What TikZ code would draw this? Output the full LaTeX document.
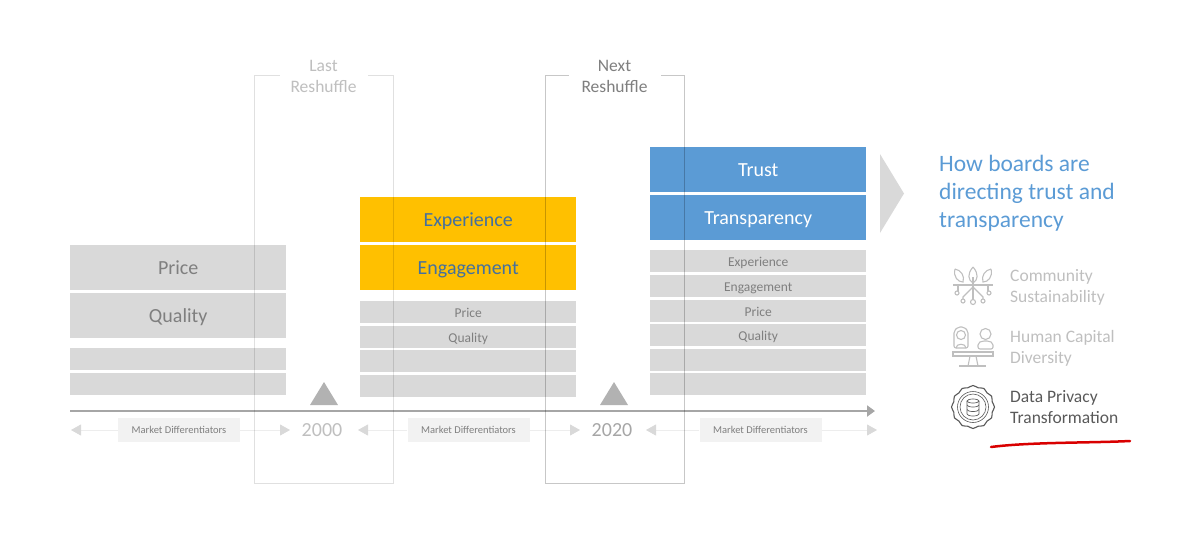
\documentclass[tikz,border=0pt]{standalone}
\usepackage{fontspec}
\setmainfont{Carlito}
\usetikzlibrary{arrows.meta,calc,positioning}

\definecolor{boxgrey}{HTML}{D9D9D9}
\definecolor{textgrey}{HTML}{7F7F7F}
\definecolor{palegrey}{HTML}{BFBFBF}
\definecolor{boardblue}{HTML}{5B9BD5}
\definecolor{boardgold}{HTML}{FFC000}
\definecolor{goldtext}{HTML}{44709E}
\definecolor{darktext}{HTML}{595959}

\tikzset{
  bigbox/.style={fill=boxgrey,text=textgrey,anchor=north west,minimum width=216pt,minimum height=45pt,inner sep=0pt,text height=15pt,text depth=2pt,font=\fontsize{20}{22}\selectfont},
  smallbox/.style={fill=boxgrey,text=textgrey,anchor=north west,minimum width=216pt,minimum height=22pt,inner sep=0pt,text height=11pt,text depth=1pt,font=\fontsize{13.5}{15}\selectfont},
  goldbox/.style={bigbox,fill=boardgold,text=goldtext},
  bluebox/.style={bigbox,fill=boardblue,text=white},
  marketbox/.style={fill=black!5,text=textgrey,minimum width=122pt,minimum height=24pt,inner sep=0pt,font=\fontsize{10.5}{12}\selectfont},
  marketline/.style={draw=black!7,line width=0.8pt,-{Triangle[length=10pt,width=11pt,color=boxgrey]}},
  yearlabel/.style={text=palegrey,inner sep=0pt,font=\fontsize{20}{22}\selectfont},
  reshuffle/.style={draw=black,line width=0.8pt,minimum width=139pt,minimum height=408pt,inner sep=0pt},
  reshufflelabel/.style={fill=white,align=center,minimum width=72pt,inner sep=1pt,font=\fontsize{17.5}{21}\selectfont},
  theme/.style={anchor=west,align=left,inner sep=0pt,text=palegrey,font=\fontsize{17.5}{21}\selectfont},
  icon/.style={draw=palegrey,line width=1.1pt}
}

\begin{document}
\begin{tikzpicture}[x=1pt,y=-1pt]

  \useasboundingbox (0,0) rectangle (1200,547);

  % first column
  \node[bigbox] (price1) at (70,245) {Price};
  \node[bigbox] (quality1) at (70,293) {Quality};
  \node[smallbox] (blank1a) at (70,348) {};
  \node[smallbox] (blank1b) at (70,373) {};

  % second column
  \node[goldbox] (experience2) at (360,197) {Experience};
  \node[goldbox] (engagement2) at (360,245) {Engagement};
  \node[smallbox] (price2) at (360,301) {Price};
  \node[smallbox] (quality2) at (360,326) {Quality};
  \node[smallbox] (blank2a) at (360,350) {};
  \node[smallbox] (blank2b) at (360,375) {};

  % third column
  \node[bluebox] (trust3) at (650,147) {Trust};
  \node[bluebox] (transparency3) at (650,195) {Transparency};
  \node[smallbox] (experience3) at (650,250) {Experience};
  \node[smallbox] (engagement3) at (650,275) {Engagement};
  \node[smallbox] (price3) at (650,300) {Price};
  \node[smallbox] (quality3) at (650,324) {Quality};
  \node[smallbox] (blank3a) at (650,349) {};
  \node[smallbox] (blank3b) at (650,373) {};

  % timeline
  \coordinate (axisstart) at (70,411);
  \coordinate (axisend) at (875,411);
  \draw[draw=black!35,line width=2pt,-{Triangle[length=8pt,width=11pt]}] (axisstart) -- (axisend);

  \fill[black!30] (324,382) -- (338,405) -- (310,405) -- cycle;
  \fill[black!30] (614,382) -- (628,405) -- (600,405) -- cycle;

  \node[yearlabel] (year2000) at (322,430) {2000};
  \node[yearlabel,text=black!35] (year2020) at (612,430) {2020};

  \node[marketbox] (market1) at (179,430) {Market Differentiators};
  \node[marketbox] (market2) at (468.5,430) {Market Differentiators};
  \node[marketbox] (market3) at (760.5,430) {Market Differentiators};

  \coordinate (tip1l) at (71,430);
  \coordinate (tip1r) at (290,430);
  \coordinate (tip2l) at (358,430);
  \coordinate (tip2r) at (580,430);
  \coordinate (tip3l) at (646,430);
  \coordinate (tip3r) at (877,430);
  \draw[marketline] (market1.west) -- (tip1l);
  \draw[marketline] (market1.east) -- (tip1r);
  \draw[marketline] (market2.west) -- (tip2l);
  \draw[marketline] (market2.east) -- (tip2r);
  \draw[marketline] (market3.west) -- (tip3l);
  \draw[marketline] (market3.east) -- (tip3r);

  % reshuffle frames
  \node[reshuffle,draw opacity=0.12] (lastframe) at (323.5,279) {};
  \node[reshuffle,draw opacity=0.22] (nextframe) at (614.5,279) {};
  \node[reshufflelabel,text=palegrey,minimum width=88pt] (lastlabel) at ([yshift=-2pt]lastframe.north) {Last\\Reshuffle};
  \node[reshufflelabel,text=textgrey,minimum width=92pt] (nextlabel) at ([yshift=-2pt]nextframe.north) {Next\\Reshuffle};

  % right hand panel
  \fill[boxgrey] (880,154) -- (904,193.5) -- (880,233) -- cycle;
  \node[anchor=north west,align=left,inner sep=0pt,text=boardblue,font=\fontsize{23.5}{28}\selectfont] (headline) at (939,155) {How boards are\\directing trust and\\transparency};

  \node[theme] (community) at (1010,287) {Community\\Sustainability};
  \node[theme] (human) at (1010,348) {Human Capital\\Diversity};
  \node[theme,text=darktext] (privacy) at (1010,407) {Data Privacy\\Transformation};

  % community icon
  \begin{scope}[icon]
    \draw (953,285) -- (993,285);
    \draw (973,267) .. controls (967,274) and (968,280) .. (973,283) .. controls (978,280) and (979,274) .. (973,267);
    \draw (955,269) .. controls (953,277) and (958,282) .. (963,282) .. controls (965,276) and (961,270) .. (955,269);
    \draw (991,269) .. controls (993,277) and (988,282) .. (983,282) .. controls (981,276) and (985,270) .. (991,269);
    \draw (973,277) -- (973,299);
    \draw (973,287) -- (963,297) -- (963,299);
    \draw (973,287) -- (983,297) -- (983,299);
    \draw (958,285) -- (958,291);
    \draw (988,285) -- (988,291);
    \draw (973,302) circle (2.5);
    \draw (963,301) circle (2);
    \draw (983,301) circle (2);
    \draw (957,293) circle (2);
    \draw (989,293) circle (2);
  \end{scope}

  % diversity icon
  \begin{scope}[icon]
    \draw[rounded corners=2pt] (954,348) -- (954,331) -- (958,327) -- (964,327) -- (968,331) -- (968,348) -- cycle;
    \draw (961,335) circle (4.5);
    \draw (956,348) .. controls (956,343) and (966,343) .. (966,348);
    \draw (985.5,334) circle (5.5);
    \draw[rounded corners=2pt] (978,349) -- (978,343) -- (982,341) -- (989,341) -- (993,343) -- (993,349) -- cycle;
    \draw (953,352) rectangle (993,356);
    \draw (970,356) -- (968,366);
    \draw (976,356) -- (978,366);
    \draw (959,366) -- (986,366);
  \end{scope}

  % privacy badge
  \begin{scope}[icon,draw=darktext]
    \draw[line width=1.1pt] plot[smooth cycle,domain=0:345,samples=24] ({973+(20.5+(mod(\x,30)<1?1:-0.6))*cos(\x)},{407+(20.5+(mod(\x,30)<1?1:-0.6))*sin(\x)});
    \draw[line width=0.6pt] (973,407) circle (15.5);
    \draw[line width=0.6pt] (973,407) circle (13);
    \begin{scope}[line width=0.7pt]
      \draw (967,401) -- (967,414) arc[start angle=180,end angle=360,x radius=6,y radius=-2] -- (979,401);
      \draw (973,401) ellipse (6 and 2);
      \draw (967,405) arc[start angle=180,end angle=360,x radius=6,y radius=-2];
      \draw (967,409.5) arc[start angle=180,end angle=360,x radius=6,y radius=-2];
    \end{scope}
  \end{scope}

  % red underline
  \coordinate (markstart) at (991,447);
  \coordinate (markend) at (1130,441);
  \draw[draw=red!85!black,line width=2.5pt,line cap=round] (markstart) .. controls (1030,442) and (1090,443) .. (markend);

\end{tikzpicture}
\end{document}
